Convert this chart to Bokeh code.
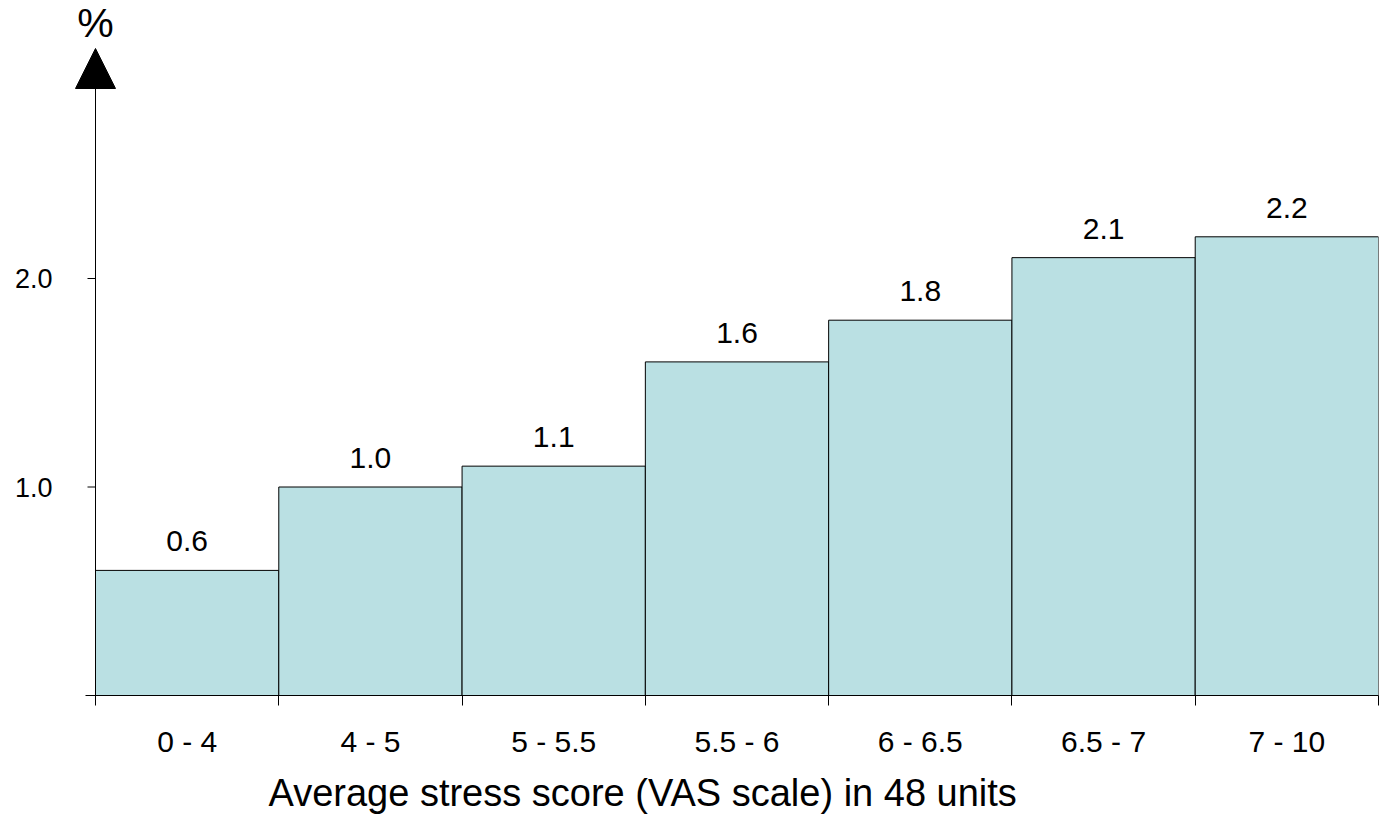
from bokeh.plotting import figure
from bokeh.models import Range1d, FixedTicker, Arrow, NormalHead, ColumnDataSource, Title
from bokeh.core.properties import value
from bokeh.embed import file_html
from bokeh.resources import INLINE

categories = ["0 - 4", "4 - 5", "5 - 5.5", "5.5 - 6", "6 - 6.5", "6.5 - 7", "7 - 10"]
percent = [0.6, 1.0, 1.1, 1.6, 1.8, 2.1, 2.2]
value_labels = ["0.6", "1.0", "1.1", "1.6", "1.8", "2.1", "2.2"]
y_ticks = [0, 1, 2]
y_tick_labels = ["", "1.0", "2.0"]
x_title = "Average stress score (VAS scale) in 48 units"
y_title = "%"

FONT = "Liberation Sans"
n = len(categories)

# layout constants (pixels)
W, H = 1380, 828
AXIS_X = 95          # pixel position of the vertical axis
RIGHT_PAD = 2
BOTTOM = 133         # space below the plotting area
PX_PER_UNIT = 208.5  # vertical scale
TIP_PX = 48          # arrow tip from top
px_x = (W - RIGHT_PAD - AXIS_X) / n   # pixels per category
frame_h = H - BOTTOM
y_max = frame_h / PX_PER_UNIT
y_tip = (frame_h - TIP_PX) / PX_PER_UNIT

src = ColumnDataSource(dict(
    left=list(range(n)),
    right=[i + 1 for i in range(n)],
    mid=[i + 0.5 for i in range(n)],
    top=percent,
    lab=value_labels,
))

p = figure(width=W, height=H, x_range=Range1d(-AXIS_X / px_x, n), y_range=Range1d(0, y_max),
           output_backend="svg", toolbar_location=None,
           min_border_left=0, min_border_right=RIGHT_PAD, min_border_top=0, min_border_bottom=BOTTOM)
p.outline_line_color = None
p.xgrid.visible = False
p.ygrid.visible = False
p.background_fill_color = "white"
p.yaxis.visible = False

p.quad(left="left", right="right", bottom=0, top="top", source=src,
       fill_color="#bae0e3", line_color="black", line_width=1)

p.text(x="mid", y="top", text="lab", source=src, y_offset=-29,
       text_align="center", text_baseline="alphabetic",
       text_font=value(FONT), text_font_size="30px", text_color="black")

# x axis (real axis along the bottom)
xa = p.xaxis[0]
xa.bounds = (-10 / px_x, n)
xa.ticker = FixedTicker(ticks=[i + 0.5 for i in range(n)], minor_ticks=list(range(n + 1)))
xa.major_label_overrides = {i + 0.5: c for i, c in enumerate(categories)}
xa.major_tick_out = 0
xa.major_tick_in = 0
xa.minor_tick_out = 10
xa.minor_tick_in = 0
xa.minor_tick_line_color = "black"
xa.major_label_standoff = 19
xa.major_label_text_font = FONT
xa.major_label_text_font_size = "30px"
xa.major_label_text_color = "black"
xa.axis_line_color = "black"

p.add_layout(Title(text=x_title, align="left", offset=268, standoff=18,
                   text_font=FONT, text_font_size="38px", text_font_style="normal",
                   text_color="black"), "below")

# vertical axis at x = 0 with arrow head
p.add_layout(Arrow(x_start=0, y_start=0, x_end=0, y_end=y_tip, line_color="black", line_width=1,
                   end=NormalHead(size=40, fill_color="black", line_color="black")))
p.segment(x0=-8 / px_x, x1=0, y0=y_ticks, y1=y_ticks, line_color="black", line_width=1)
p.text(x=[0] * len(y_ticks), y=y_ticks, text=y_tick_labels, x_offset=-43,
       text_align="right", text_baseline="middle",
       text_font=value(FONT), text_font_size="27px", text_color="black")
p.text(x=[0], y=[y_tip], text=[y_title], y_offset=-26, text_align="center",
       text_baseline="middle", text_font=value(FONT), text_font_size="41px", text_color="black")

open("out.html", "w").write(file_html(p, INLINE))
